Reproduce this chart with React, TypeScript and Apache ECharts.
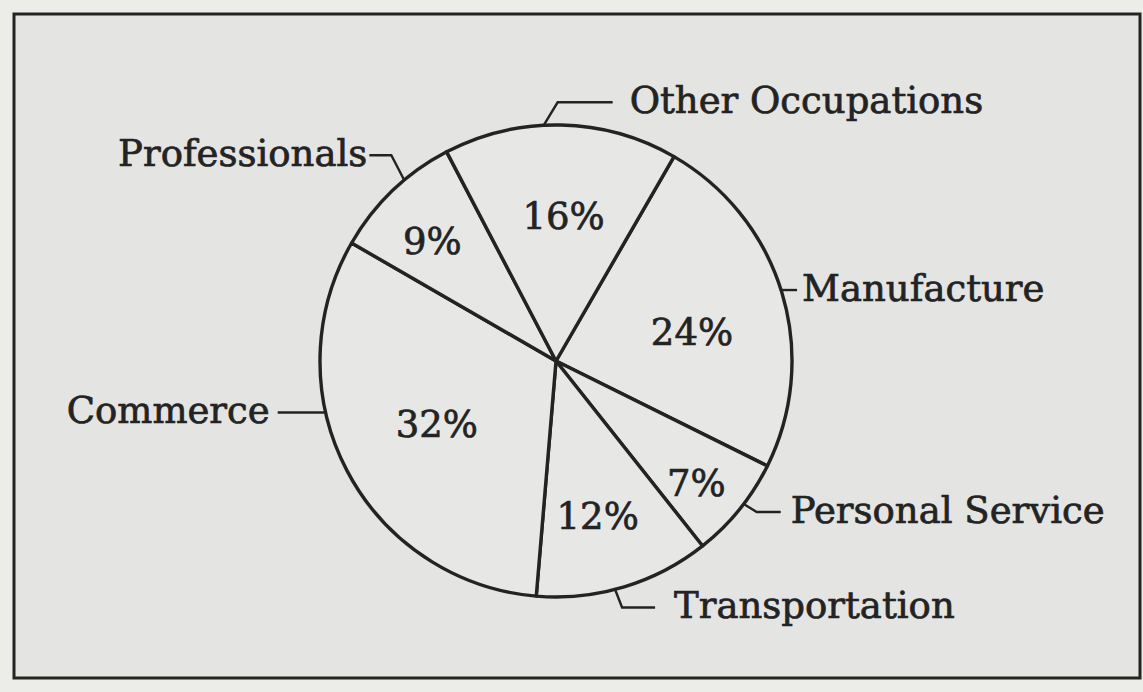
import React, { useEffect, useRef } from "react";
import * as echarts from "echarts";

// ---- data ----
const categories = [
  "Manufacture",
  "Personal Service",
  "Transportation",
  "Commerce",
  "Professionals",
  "Other Occupations",
];
const shares = [24, 7, 12, 32, 9, 16];

// ---- label styling (angles in degrees clockwise from 12 o'clock) ----
const nameGuides = [
  { angle: 72.5, elbow: [0, 0], run: 16, gap: 5 },
  { angle: 127.3, elbow: [13, 8], run: 24, gap: 10 },
  { angle: 165.5, elbow: [7, 18], run: 33, gap: 19 },
  { angle: 257.4, elbow: [0, 0], run: -48, gap: 8 },
  { angle: 320, elbow: [-13, -25], run: -22, gap: 2 },
  { angle: 357, elbow: [14, -23], run: 55, gap: 17 },
];
const pctSpots = [
  { angle: 78, r: 139 },
  { angle: 131, r: 186 },
  { angle: 165, r: 161 },
  { angle: 242, r: 135 },
  { angle: 314, r: 172 },
  { angle: 3, r: 145 },
];

const CX = 556;
const CY = 361;
const R = 236;
const FONT = "DejaVu Serif";
const INK = "#232323";
const PAPER = "#e4e4e2";

function polar(angleDeg: number, r: number) {
  const a = (angleDeg * Math.PI) / 180;
  return [CX + r * Math.sin(a), CY - r * Math.cos(a)];
}

const textStyle = {
  fontFamily: FONT,
  fontSize: 37,
  color: INK,
  textBorderColor: INK,
  textBorderWidth: 0.7,
};

export default function App() {
  const ref = useRef<HTMLDivElement>(null);
  useEffect(() => {
    if (!ref.current) return;
    const chart = echarts.init(ref.current, undefined, { renderer: "svg" });
    const data = categories.map((name, i) => ({ name, value: shares[i] }));
    chart.setOption({
      animation: false,
      backgroundColor: "#ecece9",
      graphic: [
        {
          type: "rect",
          z: 0,
          shape: { x: 14, y: 14, width: 1126, height: 664 },
          style: { fill: PAPER, stroke: INK, lineWidth: 3 },
        },
      ],
      series: [
        {
          type: "pie",
          z: 2,
          center: [CX, CY],
          radius: [0, R],
          startAngle: 60,
          clockwise: true,
          avoidLabelOverlap: false,
          silent: true,
          data,
          itemStyle: { color: "#e7e7e5", borderColor: INK, borderWidth: 3.4 },
          emphasis: { disabled: true },
          label: {
            show: true,
            position: "outside",
            formatter: "{b}",
            ...textStyle,
          },
          labelLine: {
            show: true,
            length: 10,
            length2: 10,
            smooth: false,
            lineStyle: { color: INK, width: 2.4 },
          },
          labelLayout: (p: any) => {
            const g = nameGuides[p.dataIndex];
            const [ax, ay] = polar(g.angle, R);
            const ex = ax + g.elbow[0];
            const ey = ay + g.elbow[1];
            const tx = ex + g.run;
            const ty = ey;
            const right = g.run > 0;
            return {
              x: tx + (right ? g.gap : -g.gap),
              y: ty - 2,
              align: right ? "left" : "right",
              verticalAlign: "middle",
              labelLinePoints: [
                [ax, ay],
                [ex, ey],
                [tx, ty],
              ],
            };
          },
        },
        {
          type: "pie",
          z: 3,
          center: [CX, CY],
          radius: [0, R],
          startAngle: 60,
          clockwise: true,
          silent: true,
          data,
          itemStyle: { color: "rgba(0,0,0,0)", borderWidth: 0 },
          emphasis: { disabled: true },
          label: {
            show: true,
            position: "inside",
            formatter: "{c}%",
            ...textStyle,
          },
          labelLine: { show: false },
          labelLayout: (p: any) => {
            const s = pctSpots[p.dataIndex];
            const [x, y] = polar(s.angle, s.r);
            return { x, y, align: "center", verticalAlign: "middle" };
          },
        },
      ],
    });
    return () => chart.dispose();
  }, []);
  return (
    <div
      ref={ref}
      style={{ position: "absolute", left: 0, top: 0, width: 1143, height: 692 }}
    />
  );
}
